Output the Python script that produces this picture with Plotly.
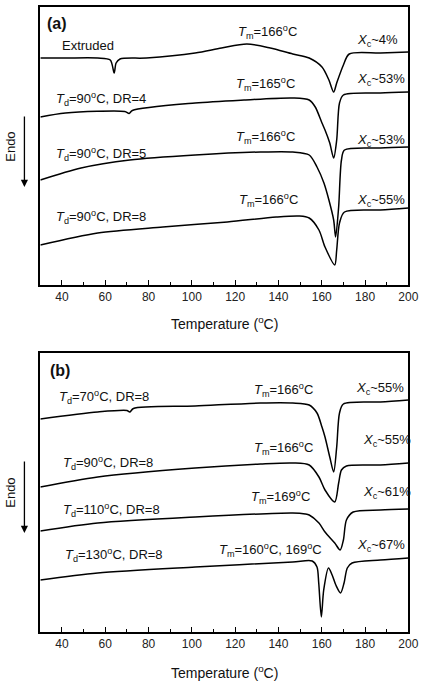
import plotly.graph_objects as go

W, H = 433, 696
FONT = "Arial, Liberation Sans, sans-serif"

# ---------------- Data (temperature in °C, heat flow in arbitrary units) ----------------
# Panel (a)
a_ext_T = [30, 41.6, 56.5, 62.3, 64.1, 65.0, 66.8, 79.0, 101.5, 113.7, 125.4, 136.2, 146.6,
           154.2, 160.1, 163.3, 165.5, 166.9, 170.0, 172.7, 187.1, 200]
a_ext_y = [227, 227, 227, 225, 212, 222, 226, 227, 232, 237, 241, 237, 231,
           227, 218, 205, 193, 202, 220, 231, 232, 233]

a_dr4_T = [30, 41.6, 69, 71, 72.5, 101.5, 124.1, 146.6, 154.2, 157.0, 160.1, 161.5, 163.7,
           165.5, 166.9, 168.2, 170.0, 187.1, 200]
a_dr4_y = [168, 172, 173.5, 171.5, 174.5, 182, 185, 187, 185, 178, 162, 155, 142,
           127, 145, 182, 190, 192, 193]

a_dr5_T = [30, 48.8, 71.3, 101.5, 131.7, 146.6, 154.2, 157.8, 161.0, 163.3, 165.5, 166.4,
           167.8, 169.1, 170.5, 187.1, 200]
a_dr5_y = [105, 117, 125, 130, 133, 133, 130, 118, 102, 85, 65, 48,
           78, 125, 135, 137, 138]

a_dr8_T = [30, 56.5, 86.6, 116.4, 138.9, 149.7, 154.2, 158.7, 161.5, 166.0, 166.9, 168.2,
           170.5, 187.1, 200]
a_dr8_y = [40, 52, 58, 63, 68, 69, 67, 55, 38, 20, 35, 62, 73, 75, 77]

# Panel (b)
b_td70_T = [30, 56.5, 70, 71.3, 73, 101.5, 131.7, 146.6, 154.2, 157.8, 160.1, 161.5, 163.7,
            165.5, 166.9, 168.2, 170.0, 187.1, 200]
b_td70_y = [213, 220, 221.5, 220, 223.5, 226, 229, 229, 227, 219, 205, 195, 175,
            160, 185, 219, 228, 230, 232]

b_td90_T = [30, 56.5, 101.5, 131.7, 146.6, 154.2, 158.7, 161.5, 166.0, 167.8, 169.1, 171.4,
            187.1, 200]
b_td90_y = [145, 155, 164, 168, 169, 167, 155, 142, 130, 149, 162, 166, 167, 169]

b_td110_T = [30, 56.5, 101.5, 146.6, 152.4, 154.2, 158.7, 161.5, 166.0, 168.5, 170.0, 171.4,
             174.5, 187.1, 200]
b_td110_y = [101, 109, 115, 119, 118, 117, 109, 100, 89, 82, 92, 112, 120, 122, 123]

b_td130_T = [30, 56.5, 101.5, 146.6, 155.6, 157.8, 158.6, 159.8, 160.9, 163.1, 164.8, 166.5,
             168.7, 170.3, 171.8, 174.0, 187.1, 200]
b_td130_y = [52, 59, 65, 70, 71, 65, 49, 15, 42, 64, 57, 47,
             39, 49, 64, 69, 72, 74]

x_ticks = [40, 60, 80, 100, 120, 140, 160, 180, 200]

panel_a = [(a_ext_T, a_ext_y), (a_dr4_T, a_dr4_y), (a_dr5_T, a_dr5_y), (a_dr8_T, a_dr8_y)]
panel_b = [(b_td70_T, b_td70_y), (b_td90_T, b_td90_y), (b_td110_T, b_td110_y), (b_td130_T, b_td130_y)]

# ---------------- Figure ----------------
fig = go.Figure()
for T, y in panel_a:
    fig.add_trace(go.Scatter(x=T, y=y, mode="lines", xaxis="x", yaxis="y",
                             line=dict(color="black", width=1.5, shape="spline", smoothing=0.8),
                             showlegend=False, hoverinfo="skip"))
for T, y in panel_b:
    fig.add_trace(go.Scatter(x=T, y=y, mode="lines", xaxis="x2", yaxis="y2",
                             line=dict(color="black", width=1.5, shape="spline", smoothing=0.8),
                             showlegend=False, hoverinfo="skip"))

def px(x):
    return x / W

def py(y):
    return 1 - y / H

xdom = [px(41.3), px(418)]
a_dom = [py(285), py(7)]
b_dom = [py(632), py(353)]

xaxis_common = dict(range=[30, 200], tickmode="array", tickvals=x_ticks,
                    ticks="inside", ticklen=5, tickwidth=1.2, tickcolor="black",
                    minor=dict(ticks="inside", ticklen=3, tickwidth=1.2, tickcolor="black",
                               tickvals=[50, 70, 90, 110, 130, 150, 170, 190]),
                    showline=True, mirror=True, linecolor="black", linewidth=1.5,
                    showgrid=False, zeroline=False,
                    tickfont=dict(family=FONT, size=12, color="#222"), domain=xdom)
yaxis_common = dict(showticklabels=False, ticks="", showline=True, mirror=True,
                    linecolor="black", linewidth=1.5, showgrid=False, zeroline=False)

fig.update_layout(
    width=W, height=H, margin=dict(l=0, r=0, t=0, b=0),
    paper_bgcolor="white", plot_bgcolor="white",
    xaxis=dict(**xaxis_common, anchor="y"),
    yaxis=dict(**yaxis_common, range=[0, 278], domain=a_dom, anchor="x"),
    xaxis2=dict(**xaxis_common, anchor="y2"),
    yaxis2=dict(**yaxis_common, range=[0, 279], domain=b_dom, anchor="x2"),
)

ann = []

def text(x, y, s, size=13, xanchor="left", angle=0):
    ann.append(dict(x=px(x), y=py(y), xref="paper", yref="paper", text=s, showarrow=False,
                    xanchor=xanchor, yanchor="middle", textangle=angle,
                    font=dict(family=FONT, size=size, color="#111")))

Tm = "<i>T</i><sub>m</sub>="
Td = "<i>T</i><sub>d</sub>="
Xc = "<i>X</i><sub>c</sub>~"
deg = "<sup>o</sup>C"

# Panel (a) labels
text(46, 24, "<b>(a)</b>", size=16)
text(61, 45, "Extruded")
text(242, 32, Tm + "166" + deg)
text(363, 40, Xc + "4%")
text(240, 84, Tm + "165" + deg)
text(55, 99, Td + "90" + deg + ", DR=4")
text(363, 80, Xc + "53%")
text(240, 137, Tm + "166" + deg)
text(55, 154, Td + "90" + deg + ", DR=5")
text(363, 140, Xc + "53%")
text(243, 200, Tm + "166" + deg)
text(55, 217, Td + "90" + deg + ", DR=8")
text(363, 200, Xc + "55%")

# Panel (b) labels
text(49, 370, "<b>(b)</b>", size=16)
text(58, 397, Td + "70" + deg + ", DR=8")
text(258, 390, Tm + "166" + deg)
text(362, 388, Xc + "55%")
text(62, 463, Td + "90" + deg + ", DR=8")
text(258, 448, Tm + "166" + deg)
text(370, 440, Xc + "55%")
text(62, 510, Td + "110" + deg + ", DR=8")
text(255, 497, Tm + "169" + deg)
text(370, 492, Xc + "61%")
text(65, 555, Td + "130" + deg + ", DR=8")
text(222, 550, Tm + "160" + deg + ", 169" + deg)
text(363, 545, Xc + "67%")

# Axis titles
text(230, 323, "Temperature (<sup>o</sup>C)", size=14, xanchor="center")
text(230, 672, "Temperature (<sup>o</sup>C)", size=14, xanchor="center")

# Endo labels
text(10, 147, "Endo", size=13, xanchor="center", angle=-90)
text(10, 493, "Endo", size=13, xanchor="center", angle=-90)

# Endo arrows (tail offset in pixels above the head)
for (y0, y1) in [(115, 187), (460, 533)]:
    ann.append(dict(x=px(25), y=py(y1), xref="paper", yref="paper",
                    ax=0, ay=-(y1 - y0), axref="pixel", ayref="pixel",
                    text="", showarrow=True, arrowhead=2, arrowsize=1.1,
                    arrowwidth=1.3, arrowcolor="black"))

fig.update_layout(annotations=ann)
fig.write_html("out.html")
